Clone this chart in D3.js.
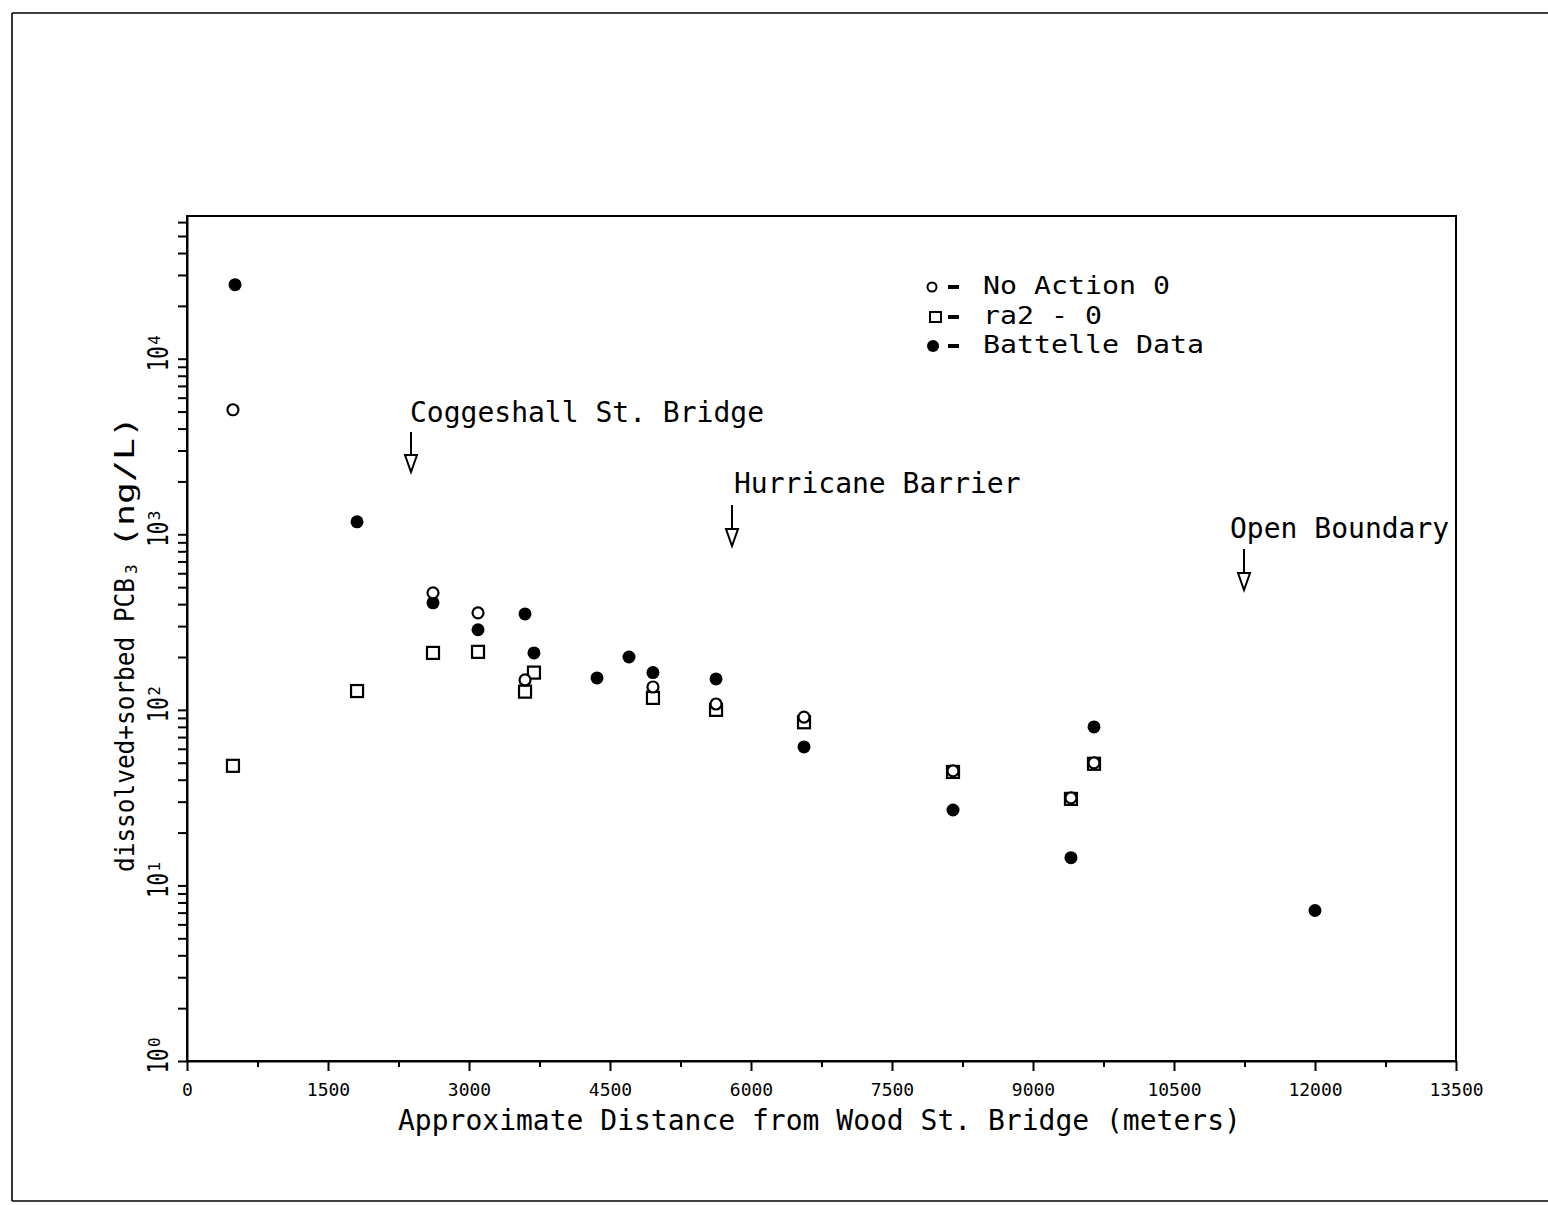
<!DOCTYPE html>
<html>
<head>
<meta charset="utf-8">
<script src="https://cdn.jsdelivr.net/npm/d3@7"></script>
<style>
  body { margin: 0; background: #fff; }
  svg { display: block; }
  text { font-family: "DejaVu Sans Mono", "Liberation Mono", monospace; fill: #000; }
</style>
</head>
<body>
<svg id="chart" width="1548" height="1205"></svg>
<script>
// Distance from Wood St. Bridge (m) and dissolved+sorbed PCB (ng/L), per series
const noActionDist = [489, 2617, 3096, 3596, 4957, 5628, 6564, 8149, 9404, 9649];
const noActionPCB  = [5120, 464, 357, 148, 135, 108, 91, 44.9, 31.5, 49.9];

const ra2Dist = [489, 1809, 2617, 3096, 3596, 3691, 4957, 5628, 6564, 8149, 9404, 9649];
const ra2PCB  = [48, 128, 211, 214, 127, 163, 117, 100, 85, 44.3, 31.1, 49.3];

const battelleDist = [511, 1809, 2617, 3096, 3596, 3691, 4362, 4702, 4957, 5628, 6564, 8149, 9404, 9649, 12000];
const battellePCB  = [26400, 1178, 407, 286, 352, 211, 152, 200, 163, 150, 61.5, 26.9, 14.4, 80, 7.2];

// Axis ticks
const xMajorTicks = [0, 1500, 3000, 4500, 6000, 7500, 9000, 10500, 12000, 13500];
const xMinorTicks = [750, 2250, 3750, 5250, 6750, 8250, 9750, 11250, 12750];
const yDecades = [1, 10, 100, 1000, 10000];
const yExponents = ["0", "1", "2", "3", "4"];

// Landmarks along the river
const landmarkNames = ["Coggeshall St. Bridge", "Hurricane Barrier", "Open Boundary"];
const landmarkDist = [2383, 5798, 11245];

const legendLabels = ["No Action 0", "ra2 - 0", "Battelle Data"];

const svg = d3.select("#chart");

// page frame
const frame = svg.append("g").attr("stroke", "#000").attr("stroke-width", 1.6).attr("fill", "none");
frame.append("line").attr("x1", 12).attr("y1", 13).attr("x2", 1548).attr("y2", 13);
frame.append("line").attr("x1", 12).attr("y1", 13).attr("x2", 12).attr("y2", 1201);
frame.append("line").attr("x1", 12).attr("y1", 1201).attr("x2", 1548).attr("y2", 1201);

const plotLeft = 187, plotRight = 1456, plotTop = 216, plotBottom = 1061;

const x = d3.scaleLinear().domain([0, 13500]).range([plotLeft, plotRight]);
const y = d3.scaleLog().domain([1, 65000]).range([plotBottom, plotTop]);

// plot box
svg.append("rect")
  .attr("x", plotLeft).attr("y", plotTop)
  .attr("width", plotRight - plotLeft).attr("height", plotBottom - plotTop)
  .attr("fill", "none").attr("stroke", "#000").attr("stroke-width", 2);

// x axis
const xAxis = svg.append("g").attr("transform", `translate(0,${plotBottom})`)
  .call(d3.axisBottom(x).tickValues(xMajorTicks).tickSize(10).tickSizeOuter(0).tickFormat(d3.format("d")));
xAxis.select(".domain").attr("stroke-width", 2);
xAxis.selectAll(".tick line").attr("stroke-width", 2);
xAxis.selectAll(".tick text")
  .attr("y", 35).attr("dy", null)
  .style("font-size", "18px")
  .style("font-family", "\"DejaVu Sans Mono\", monospace");

const xMinor = svg.append("g").attr("transform", `translate(0,${plotBottom})`)
  .call(d3.axisBottom(x).tickValues(xMinorTicks).tickSize(6).tickSizeOuter(0).tickFormat(""));
xMinor.select(".domain").remove();
xMinor.selectAll(".tick line").attr("stroke-width", 2);

// y axis: decades and minor ticks
const yTicks = [];
yDecades.forEach(d => {
  for (let k = 1; k <= 9; k++) {
    const v = d * k;
    if (v <= 65000) yTicks.push(v);
  }
});
const yAxis = svg.append("g").attr("transform", `translate(${plotLeft},0)`)
  .call(d3.axisLeft(y).tickValues(yTicks).tickSize(9).tickSizeOuter(0).tickFormat(""));
yAxis.select(".domain").attr("stroke-width", 2);
yAxis.selectAll(".tick line").attr("stroke-width", 2);

// y tick labels: 10 with exponent, rotated
yDecades.forEach((d, i) => {
  const g = svg.append("g").attr("transform", `translate(168,${y(d)}) rotate(-90)`);
  g.append("text")
    .attr("x", 0).attr("y", 0)
    .attr("text-anchor", "middle")
    .attr("textLength", 25).attr("lengthAdjust", "spacingAndGlyphs")
    .style("font-size", "28px")
    .text("10");
  g.append("text")
    .attr("x", 14).attr("y", -8)
    .style("font-size", "16px")
    .text(yExponents[i]);
});

// axis titles
svg.append("text")
  .attr("x", 398).attr("y", 1130)
  .style("font-size", "28px")
  .text("Approximate Distance from Wood St. Bridge (meters)");

const yTitle = svg.append("g").attr("transform", "translate(134,0) rotate(-90)");
yTitle.append("text")
  .attr("x", -872).attr("y", 0)
  .attr("textLength", 294).attr("lengthAdjust", "spacingAndGlyphs")
  .style("font-size", "26px")
  .text("dissolved+sorbed PCB");
yTitle.append("text")
  .attr("x", -574).attr("y", 3)
  .style("font-size", "16px")
  .text("3");
yTitle.append("text")
  .attr("x", -548).attr("y", 0)
  .attr("textLength", 132).attr("lengthAdjust", "spacingAndGlyphs")
  .style("font-size", "26px")
  .text("(ng/L)");

// landmark arrows and labels
const landmarkLayout = [
  { dx: -1, baseline: 422, lineTop: 432, tip: 472 },
  { dx: 2, baseline: 493, lineTop: 505, tip: 546 },
  { dx: -14, baseline: 538, lineTop: 549, tip: 590 }
];
landmarkNames.forEach((name, i) => {
  const L = landmarkLayout[i];
  const ax = x(landmarkDist[i]);
  svg.append("text")
    .attr("x", ax + L.dx).attr("y", L.baseline)
    .style("font-size", "28px")
    .text(name);
  const headTop = L.tip - 17;
  svg.append("line")
    .attr("x1", ax).attr("y1", L.lineTop).attr("x2", ax).attr("y2", headTop)
    .attr("stroke", "#000").attr("stroke-width", 2);
  svg.append("path")
    .attr("d", `M${ax - 6},${headTop} L${ax + 6},${headTop} L${ax},${L.tip} Z`)
    .attr("fill", "#fff").attr("stroke", "#000").attr("stroke-width", 2);
});

// data markers
const ra2 = ra2Dist.map((d, i) => ({ d, v: ra2PCB[i] }));
const battelle = battelleDist.map((d, i) => ({ d, v: battellePCB[i] }));
const noAction = noActionDist.map((d, i) => ({ d, v: noActionPCB[i] }));

const marks = svg.append("g");
marks.selectAll("rect.ra2").data(ra2).join("rect")
  .attr("class", "ra2")
  .attr("x", p => x(p.d) - 6).attr("y", p => y(p.v) - 6)
  .attr("width", 12).attr("height", 12)
  .attr("fill", "#fff").attr("stroke", "#000").attr("stroke-width", 2.2);
marks.selectAll("circle.battelle").data(battelle).join("circle")
  .attr("class", "battelle")
  .attr("cx", p => x(p.d)).attr("cy", p => y(p.v)).attr("r", 6.5)
  .attr("fill", "#000");
marks.selectAll("circle.noaction").data(noAction).join("circle")
  .attr("class", "noaction")
  .attr("cx", p => x(p.d)).attr("cy", p => y(p.v)).attr("r", 5.5)
  .attr("fill", "#fff").attr("stroke", "#000").attr("stroke-width", 2.2);

// legend
const legend = svg.append("g");
const legendRowY = [287, 317, 346];
legendLabels.forEach((label, i) => {
  const cy = legendRowY[i];
  if (i === 0) {
    legend.append("circle").attr("cx", 932).attr("cy", cy).attr("r", 4.5)
      .attr("fill", "#fff").attr("stroke", "#000").attr("stroke-width", 2);
  } else if (i === 1) {
    legend.append("rect").attr("x", 930).attr("y", cy - 5).attr("width", 11).attr("height", 10)
      .attr("fill", "#fff").attr("stroke", "#000").attr("stroke-width", 2);
  } else {
    legend.append("circle").attr("cx", 933).attr("cy", cy).attr("r", 6).attr("fill", "#000");
  }
  legend.append("line").attr("x1", 948).attr("x2", 959).attr("y1", cy).attr("y2", cy)
    .attr("stroke", "#000").attr("stroke-width", 4);
  legend.append("text")
    .attr("x", 983).attr("y", cy + 7)
    .attr("textLength", label.length * 17).attr("lengthAdjust", "spacingAndGlyphs")
    .style("font-size", "25px")
    .text(label);
});
</script>
</body>
</html>
